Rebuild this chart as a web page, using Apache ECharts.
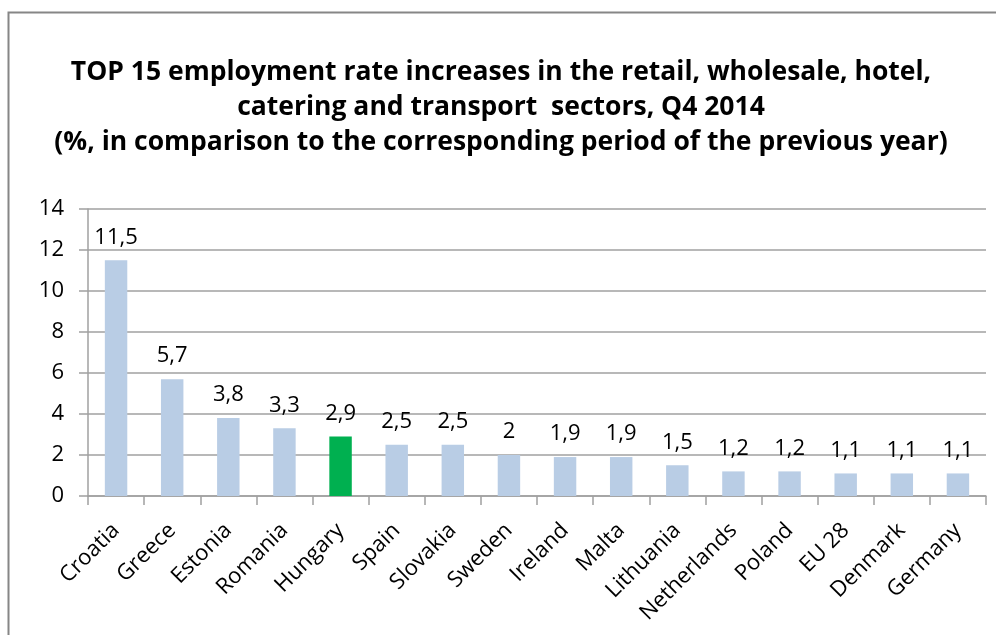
<!DOCTYPE html>
<html>
<head>
<meta charset="utf-8">
<script src="https://cdn.jsdelivr.net/npm/echarts@6/dist/echarts.min.js"></script>
<style>
  html, body { margin: 0; padding: 0; background: #fff; }
  #chart { width: 996px; height: 635px; }
</style>
</head>
<body>
<div id="chart"></div>
<script>
// Employment rate change, Q4 2014 vs Q4 2013 (%)
const countries = ['Croatia', 'Greece', 'Estonia', 'Romania', 'Hungary', 'Spain', 'Slovakia', 'Sweden',
  'Ireland', 'Malta', 'Lithuania', 'Netherlands', 'Poland', 'EU 28', 'Denmark', 'Germany'];
const increases = [11.5, 5.7, 3.8, 3.3, 2.9, 2.5, 2.5, 2, 1.9, 1.9, 1.5, 1.2, 1.2, 1.1, 1.1, 1.1];
const highlighted = 'Hungary';
const yTicks = [0, 2, 4, 6, 8, 10, 12, 14];

const FONT = '"Open Sans"';
const chart = echarts.init(document.getElementById('chart'));

chart.setOption({
  animation: false,
  title: {
    text: 'TOP 15 employment rate increases in the retail, wholesale, hotel,\n' +
          'catering and transport  sectors, Q4 2014\n' +
          '(%, in comparison to the corresponding period of the previous year)',
    left: 496,
    textAlign: 'center',
    top: 50,
    textStyle: {
      fontFamily: FONT, fontWeight: 'bold', fontSize: 26.5, color: '#000', lineHeight: 35
    }
  },
  graphic: [{
    type: 'rect',
    shape: { x: 8.5, y: 12.5, width: 1000, height: 700 },
    style: { fill: 'none', stroke: '#868686', lineWidth: 2 },
    silent: true
  }],
  grid: { left: 88, right: 10, top: 209, bottom: 139 },
  xAxis: {
    type: 'category',
    data: countries,
    axisLine: { lineStyle: { color: '#a0a0a0', width: 1.5 } },
    axisTick: { show: true, length: 9, alignWithLabel: false, lineStyle: { color: '#a0a0a0', width: 1.5 } },
    axisLabel: {
      interval: 0, rotate: 45, margin: 31, fontFamily: FONT, fontSize: 22, color: '#000'
    }
  },
  yAxis: {
    type: 'value',
    min: yTicks[0],
    max: yTicks[yTicks.length - 1],
    interval: 2,
    axisLine: { show: true, lineStyle: { color: '#a0a0a0', width: 1.5 } },
    axisTick: { show: true, length: 9, lineStyle: { color: '#a0a0a0', width: 1.5 } },
    axisLabel: { margin: 24, fontFamily: FONT, fontSize: 22, color: '#000' },
    splitLine: { lineStyle: { color: '#a0a0a0', width: 1.5 } }
  },
  series: [{
    type: 'bar',
    barWidth: '40%',
    data: increases.map((v, i) => ({
      value: v,
      itemStyle: { color: countries[i] === highlighted ? '#00b050' : '#b9cde5' }
    })),
    label: {
      show: true,
      position: 'top',
      distance: 12,
      fontFamily: FONT,
      fontSize: 22,
      color: '#000',
      formatter: p => String(p.value).replace('.', ',')
    }
  }]
});
</script>
</body>
</html>
